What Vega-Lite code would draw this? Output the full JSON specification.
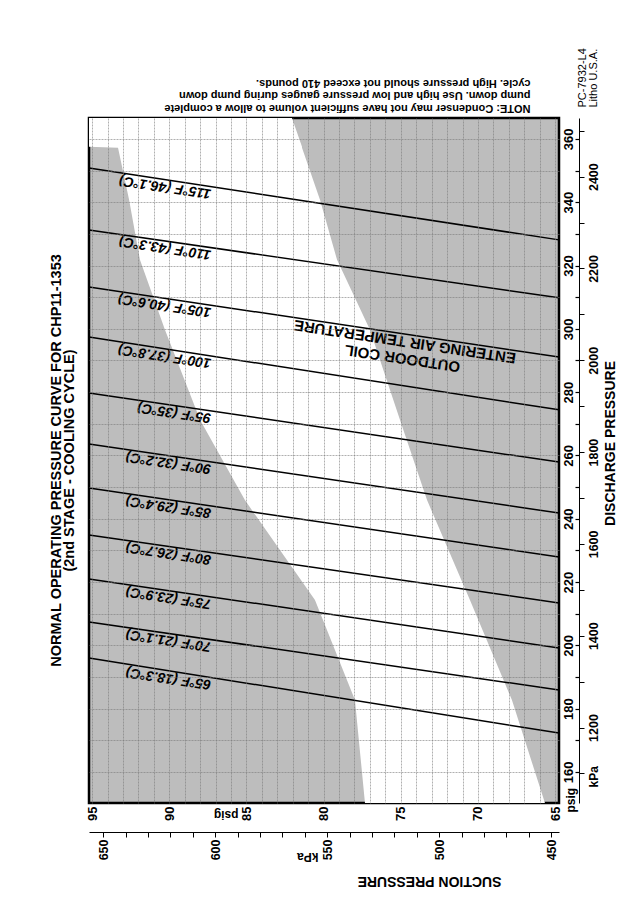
{
  "$schema": "https://vega.github.io/schema/vega-lite/v6.json",
  "width": 470,
  "height": 685,
  "autosize": {"type": "none"},
  "padding": {"left": 89, "top": 118, "right": 78, "bottom": 114},
  "background": "white",
  "config": {
    "view": {"fill": "#bdbdbd", "stroke": "black", "strokeWidth": 2.5},
    "font": "Liberation Sans",
    "axis": {"labelFont": "Liberation Sans", "titleFont": "Liberation Sans", "labelColor": "black", "titleColor": "black", "labelOverlap": false, "labelFlush": false, "labelBound": false}
  },
  "title": {
    "text": ["NORMAL OPERATING PRESSURE CURVE FOR CHP11-1353", "(2nd STAGE - COOLING CYCLE)"],
    "orient": "left",
    "anchor": "middle",
    "offset": 9,
    "font": "Liberation Sans",
    "fontSize": 14.5,
    "fontWeight": "bold",
    "lineHeight": 13,
    "color": "black"
  },
  "resolve": {
    "scale": {"x": "independent", "y": "independent"},
    "axis": {"x": "independent", "y": "independent"}
  },
  "layer": [
    {
      "data": {"values": [
        {"d": 366.6, "lo": 95.2, "hi": 82.05},
        {"d": 357.5, "lo": 95.2, "hi": 81.4},
        {"d": 357.2, "lo": 93.32, "hi": 81.4},
        {"d": 340.7, "lo": 92.6, "hi": 80.23},
        {"d": 321.8, "lo": 91.9, "hi": 79.13},
        {"d": 299.7, "lo": 90.28, "hi": 77.0},
        {"d": 271.2, "lo": 88.0, "hi": 75.05},
        {"d": 245.9, "lo": 85.1, "hi": 73.3},
        {"d": 214.3, "lo": 80.56, "hi": 70.52},
        {"d": 182.7, "lo": 77.97, "hi": 67.8},
        {"d": 150.2, "lo": 77.32, "hi": 65.66}
      ]},
      "mark": {"type": "area", "orient": "horizontal", "color": "white", "opacity": 1},
      "encoding": {
        "y": {
          "field": "d", "type": "quantitative",
          "scale": {"domain": [150.2, 366.6], "nice": false, "zero": false},
          "axis": {
            "orient": "right",
            "values": [160, 170, 180, 190, 200, 210, 220, 230, 240, 250, 260, 270, 280, 290, 300, 310, 320, 330, 340, 350, 360],
            "grid": true, "gridColor": "#7a7a7a", "gridWidth": 0.6, "gridDash": [2, 1],
            "ticks": false, "domain": false,
            "labelExpr": "datum.value % 20 === 0 ? datum.label : ''",
            "labelAngle": -90, "labelAlign": "center", "labelBaseline": "top", "labelPadding": 3,
            "labelFontSize": 13, "labelFontWeight": "bold",
            "title": "psig", "titleAngle": -90, "titleX": 6, "titleY": 694, "titleAlign": "left", "titleBaseline": "top",
            "titleFontSize": 12, "titleFontWeight": "bold",
            "zindex": 1
          }
        },
        "x": {
          "field": "lo", "type": "quantitative",
          "scale": {"domain": [95.2, 64.75], "nice": false, "zero": false},
          "axis": {
            "orient": "bottom",
            "values": [65, 66, 67, 68, 69, 70, 71, 72, 73, 74, 75, 76, 77, 78, 79, 80, 81, 82, 83, 84, 85, 86, 87, 88, 89, 90, 91, 92, 93, 94, 95],
            "grid": true, "gridColor": "#7a7a7a", "gridWidth": 0.6, "gridDash": [2, 1],
            "ticks": false, "domain": false,
            "labelExpr": "datum.value % 5 === 0 ? datum.label : ''",
            "labelAngle": -90, "labelAlign": "right", "labelBaseline": "middle", "labelPadding": 3,
            "labelFontSize": 13, "labelFontWeight": "bold",
            "title": "psig", "titleAngle": 180, "titleX": 149, "titleY": 11, "titleAlign": "left", "titleBaseline": "middle",
            "titleFontSize": 12, "titleFontWeight": "bold",
            "zindex": 1
          }
        },
        "x2": {"field": "hi"}
      }
    },
    {
      "data": {"values": [
        {"t": "115", "s": 95.2, "d": 350.8}, {"t": "115", "s": 64.75, "d": 328.1},
        {"t": "110", "s": 95.2, "d": 331.2}, {"t": "110", "s": 64.75, "d": 309.8},
        {"t": "105", "s": 95.2, "d": 313.2}, {"t": "105", "s": 64.75, "d": 291.1},
        {"t": "100", "s": 95.2, "d": 297.4}, {"t": "100", "s": 64.75, "d": 274.4},
        {"t": "95", "s": 95.2, "d": 279.7}, {"t": "95", "s": 64.75, "d": 257.9},
        {"t": "90", "s": 95.2, "d": 263.6}, {"t": "90", "s": 64.75, "d": 241.8},
        {"t": "85", "s": 95.2, "d": 249.7}, {"t": "85", "s": 64.75, "d": 227.9},
        {"t": "80", "s": 95.2, "d": 234.9}, {"t": "80", "s": 64.75, "d": 213.4},
        {"t": "75", "s": 95.2, "d": 221.0}, {"t": "75", "s": 64.75, "d": 199.2},
        {"t": "70", "s": 95.2, "d": 207.4}, {"t": "70", "s": 64.75, "d": 185.9},
        {"t": "65", "s": 95.2, "d": 196.0}, {"t": "65", "s": 64.75, "d": 172.3}
      ]},
      "mark": {"type": "line", "color": "black", "strokeWidth": 1.5},
      "encoding": {
        "x": {
          "field": "s", "type": "quantitative",
          "scale": {"domain": [95.2, 64.75], "nice": false, "zero": false},
          "axis": {
            "orient": "top", "labels": false, "ticks": false, "domain": false, "grid": false,
            "title": ["NOTE: Condenser may not have sufficient volume to allow a complete", "pump down. Use high and low pressure gauges during pump down", "cycle. High pressure should not exceed 410 pounds."],
            "titleAngle": 180, "titleX": 441, "titleY": -5, "titleAlign": "left", "titleBaseline": "top",
            "titleFontSize": 11, "titleFontWeight": "bold", "titleLineHeight": 12.5
          }
        },
        "y": {
          "field": "d", "type": "quantitative",
          "scale": {"domain": [150.2, 366.6], "nice": false, "zero": false},
          "axis": {
            "orient": "right", "labels": false, "ticks": false, "domain": false, "grid": false,
            "title": ["PC-7932-L4", "Litho U.S.A."],
            "titleAngle": -90, "titleX": 17, "titleY": -11, "titleAlign": "left", "titleBaseline": "top",
            "titleFontSize": 11, "titleFontWeight": "normal", "titleLineHeight": 11
          }
        },
        "detail": {"field": "t"}
      }
    },
    {
      "data": {"values": [
        {"lab": "115°F (46.1°C)", "s": 87.23, "d": 344.86},
        {"lab": "110°F (43.3°C)", "s": 87.23, "d": 325.6},
        {"lab": "105°F (40.6°C)", "s": 87.23, "d": 307.42},
        {"lab": "100°F (37.8°C)", "s": 87.23, "d": 291.38},
        {"lab": "95°F (35°C)", "s": 87.23, "d": 273.99},
        {"lab": "90°F (32.2°C)", "s": 87.23, "d": 257.89},
        {"lab": "85°F (29.4°C)", "s": 87.23, "d": 243.99},
        {"lab": "80°F (26.7°C)", "s": 87.23, "d": 229.27},
        {"lab": "75°F (23.9°C)", "s": 87.23, "d": 215.29},
        {"lab": "70°F (21.1°C)", "s": 87.23, "d": 201.77},
        {"lab": "65°F (18.3°C)", "s": 87.23, "d": 189.8}
      ]},
      "mark": {"type": "text", "angle": 188.6, "align": "left", "baseline": "bottom", "font": "Liberation Sans", "fontSize": 14, "fontWeight": "bold", "fontStyle": "italic", "color": "black"},
      "encoding": {
        "x": {
          "field": "s", "type": "quantitative",
          "scale": {"domain": [95.2, 64.75], "nice": false, "zero": false},
          "axis": {
            "orient": "bottom", "labels": false, "ticks": false, "domain": false, "grid": false,
            "title": "kPa", "titleAngle": 180, "titleX": 229, "titleY": 53, "titleAlign": "left", "titleBaseline": "middle",
            "titleFontSize": 12, "titleFontWeight": "bold"
          }
        },
        "y": {
          "field": "d", "type": "quantitative",
          "scale": {"domain": [150.2, 366.6], "nice": false, "zero": false},
          "axis": {
            "orient": "right", "labels": false, "ticks": false, "domain": false, "grid": false,
            "title": "kPa", "titleAngle": -90, "titleX": 29, "titleY": 669, "titleAlign": "left", "titleBaseline": "top",
            "titleFontSize": 12, "titleFontWeight": "bold"
          }
        },
        "text": {"field": "lab"}
      }
    },
    {
      "data": {"values": [
        {"lab": ["OUTDOOR COIL", "ENTERING AIR TEMPERATURE"], "s": 74.9, "d": 290.6}
      ]},
      "mark": {"type": "text", "angle": 188.6, "align": "center", "baseline": "middle", "font": "Liberation Sans", "fontSize": 15, "fontWeight": "bold", "lineHeight": 17, "color": "black"},
      "encoding": {
        "x": {"field": "s", "type": "quantitative", "scale": {"domain": [95.2, 64.75], "nice": false, "zero": false}, "axis": null},
        "y": {"field": "d", "type": "quantitative", "scale": {"domain": [150.2, 366.6], "nice": false, "zero": false}, "axis": null},
        "text": {"field": "lab"}
      }
    },
    {
      "data": {"values": [{"dk": 1500}]},
      "mark": {"type": "point", "opacity": 0},
      "encoding": {
        "y": {
          "field": "dk", "type": "quantitative",
          "scale": {"domain": [150.2, 366.6], "nice": false, "zero": false},
          "axis": {
            "orient": "right", "offset": 16,
            "values": [160, 170, 180, 190, 200, 210, 220, 230, 240, 250, 260, 270, 280, 290, 300, 310, 320, 330, 340, 350, 360],
            "labels": false, "grid": false, "domain": false,
            "ticks": true, "tickColor": "black", "tickSize": 4, "tickWidth": 1.2,
            "title": null
          }
        }
      }
    },
    {
      "data": {"values": [{"sk": 550, "dk": 1500}]},
      "mark": {"type": "point", "opacity": 0},
      "encoding": {
        "x": {
          "field": "sk", "type": "quantitative",
          "scale": {"domain": [656.4, 446.45], "nice": false, "zero": false},
          "axis": {
            "orient": "bottom", "offset": 29, "format": "d",
            "values": [450, 460, 470, 480, 490, 500, 510, 520, 530, 540, 550, 560, 570, 580, 590, 600, 610, 620, 630, 640, 650],
            "labelExpr": "datum.value % 50 === 0 ? datum.label : ''",
            "grid": false, "domain": true, "domainColor": "black", "domainWidth": 1,
            "ticks": true, "tickColor": "black", "tickSize": 5, "tickWidth": 1,
            "labelAngle": -90, "labelAlign": "right", "labelBaseline": "middle", "labelPadding": 2,
            "labelFontSize": 12.5, "labelFontWeight": "bold",
            "title": "SUCTION PRESSURE", "titleAngle": 180, "titleX": 340, "titleY": 48, "titleAlign": "center", "titleBaseline": "middle",
            "titleFontSize": 14, "titleFontWeight": "bold"
          }
        },
        "y": {
          "field": "dk", "type": "quantitative",
          "scale": {"domain": [1035.6, 2527.7], "nice": false, "zero": false},
          "axis": {
            "orient": "right", "offset": 20, "format": "d",
            "values": [1100, 1200, 1300, 1400, 1500, 1600, 1700, 1800, 1900, 2000, 2100, 2200, 2300, 2400, 2500],
            "labelExpr": "datum.value % 200 === 0 ? datum.label : ''",
            "grid": false, "domain": true, "domainColor": "black", "domainWidth": 1,
            "ticks": true, "tickColor": "black", "tickSize": 5, "tickWidth": 1,
            "labelAngle": -90, "labelAlign": "center", "labelBaseline": "top", "labelPadding": 3,
            "labelFontSize": 12.5, "labelFontWeight": "bold",
            "title": "DISCHARGE PRESSURE", "titleAngle": -90, "titleX": 24, "titleY": 325, "titleAlign": "center", "titleBaseline": "top",
            "titleFontSize": 14, "titleFontWeight": "bold"
          }
        }
      }
    }
  ]
}
